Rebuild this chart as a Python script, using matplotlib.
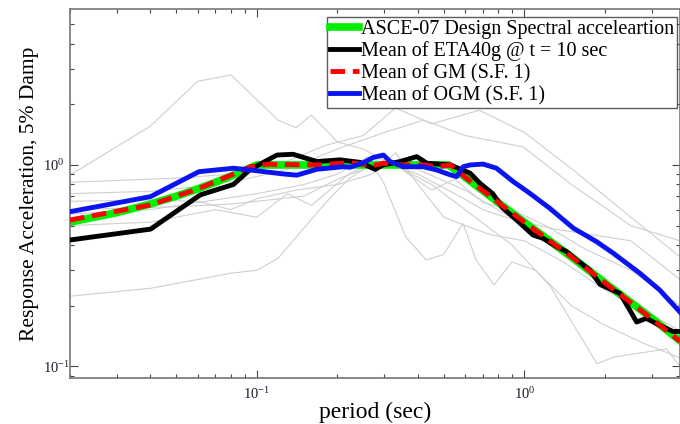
import matplotlib
matplotlib.use("Agg")
import matplotlib.pyplot as plt

plt.rcParams['font.family'] = ['Liberation Serif', 'DejaVu Serif']
plt.rcParams['mathtext.fontset'] = 'stix'

# design spectrum (ASCE-07)
asce_T = [0.02, 0.03, 0.04, 0.05, 0.06, 0.07, 0.08, 0.09, 0.1, 0.52, 0.6, 0.8, 1.0, 1.5, 2.0, 3.0, 3.82]
asce_sa = [0.52, 0.58, 0.64, 0.70, 0.76, 0.82, 0.88, 0.94, 1.0, 1.0, 0.87, 0.65, 0.52, 0.35, 0.26, 0.173, 0.134]

# mean of ETA40g
eta_T = [0.02, 0.04, 0.0614, 0.0817, 0.0944, 0.1188, 0.1366, 0.1675, 0.2046, 0.2431, 0.2767,
         0.2963, 0.3432, 0.396, 0.4321, 0.5296, 0.627, 0.683, 0.762, 0.832, 0.935, 1.077,
         1.174, 1.32, 1.44, 1.57, 1.76, 1.92, 2.28, 2.48, 2.63, 2.86, 3.2, 3.59, 3.82]
eta_sa = [0.424, 0.48, 0.71, 0.80, 0.95, 1.12, 1.13, 1.04, 1.06, 1.03, 0.95,
          1.0, 1.04, 1.10, 1.02, 1.0, 0.91, 0.81, 0.72, 0.61, 0.533, 0.449,
          0.432, 0.393, 0.371, 0.337, 0.30, 0.255, 0.23, 0.19, 0.166, 0.173, 0.16, 0.149, 0.149]

# mean of GM
gm_T = [0.02, 0.04, 0.06, 0.08, 0.0944, 0.11, 0.1675, 0.2232, 0.27, 0.2963, 0.3531, 0.4192,
        0.4704, 0.53, 0.6, 0.8, 1.0, 1.5, 2.0, 3.0, 3.82]
gm_sa = [0.533, 0.633, 0.76, 0.89, 0.98, 1.008, 1.0, 1.027, 0.99, 1.02, 1.0, 1.0,
         0.98, 1.0, 0.87, 0.65, 0.52, 0.35, 0.26, 0.172, 0.133]

# mean of OGM
ogm_T = [0.02, 0.04, 0.0607, 0.0817, 0.0944, 0.1257, 0.1411, 0.1675, 0.2107, 0.2232, 0.2502,
         0.2727, 0.2973, 0.3149, 0.3531, 0.4192, 0.4704, 0.5296, 0.5583, 0.5909, 0.627, 0.7014,
         0.787, 0.9097, 1.049, 1.245, 1.526, 1.862, 2.148, 2.703, 3.2, 3.82]
ogm_sa = [0.586, 0.696, 0.926, 0.963, 0.944, 0.902, 0.89, 0.952, 0.98, 0.974, 1.027,
          1.09, 1.12, 1.04, 0.98, 0.98, 0.944, 0.892, 0.875, 0.98, 1.0, 1.01,
          0.963, 0.826, 0.723, 0.609, 0.485, 0.416, 0.365, 0.29, 0.24, 0.186]

# individual ground motions (thin grey)
gm_records = [
    ([0.02, 0.04, 0.06, 0.08, 0.12, 0.14, 0.16, 0.2, 0.25, 0.3, 0.4, 0.6, 1.0, 1.5, 2.5, 3.82],
     [0.89, 1.56, 2.6, 2.8, 1.67, 1.53, 1.77, 1.3, 1.2, 1.05, 0.95, 0.75, 0.5, 0.33, 0.2, 0.14]),
    ([0.02, 0.04, 0.08, 0.1, 0.12, 0.18, 0.22, 0.28, 0.35, 0.45, 0.6, 0.9, 1.25, 1.87, 2.15, 3.4, 3.82],
     [0.223, 0.244, 0.29, 0.30, 0.344, 0.645, 0.85, 1.05, 0.95, 0.8, 0.6, 0.4, 0.25, 0.103, 0.111, 0.122, 0.1]),
    ([0.02, 0.05, 0.08, 0.12, 0.18, 0.25, 0.33, 0.45, 0.68, 1.0, 1.53, 2.5, 3.82],
     [0.82, 0.86, 0.9, 1.0, 1.25, 1.4, 1.92, 1.6, 1.87, 1.45, 0.94, 0.55, 0.35]),
    ([0.02, 0.04, 0.06, 0.09, 0.13, 0.2, 0.3, 0.42, 0.6, 0.99, 1.5, 2.5, 3.82],
     [0.72, 0.74, 0.78, 0.85, 0.95, 1.2, 1.45, 1.67, 1.4, 1.23, 0.8, 0.5, 0.42]),
    ([0.02, 0.04, 0.06, 0.1, 0.15, 0.2, 0.26, 0.3, 0.36, 0.43, 0.5, 0.59, 0.66, 0.77, 0.9, 1.1, 1.5, 2.0, 2.8, 3.82],
     [0.57, 0.6, 0.65, 0.72, 0.8, 0.9, 1.1, 0.8, 0.44, 0.337, 0.36, 0.513, 0.337, 0.254, 0.33, 0.3, 0.2, 0.16, 0.13, 0.11]),
    ([0.02, 0.04, 0.06, 0.08, 0.1, 0.14, 0.2, 0.27, 0.33, 0.4, 0.5, 0.6, 0.75, 1.0, 1.4, 2.0, 3.0, 3.82],
     [0.66, 0.67, 0.66, 0.6, 0.68, 0.75, 0.8, 0.9, 1.15, 0.8, 0.55, 0.5, 0.45, 0.42, 0.33, 0.24, 0.18, 0.15]),
    ([0.02, 0.04, 0.07, 0.1, 0.13, 0.16, 0.22, 0.3, 0.37, 0.45, 0.55, 0.7, 0.9, 1.2, 1.7, 2.5, 3.82],
     [0.5, 0.52, 0.6, 0.55, 0.72, 0.63, 0.9, 1.1, 0.9, 0.75, 0.85, 0.65, 0.6, 0.5, 0.38, 0.3, 0.2]),
    ([0.02, 0.05, 0.08, 0.1, 0.15, 0.2, 0.25, 0.32, 0.4, 0.55, 0.7, 0.85, 1.0, 1.3, 1.8, 2.5, 3.82],
     [0.6, 0.62, 0.64, 0.66, 0.7, 0.85, 0.95, 1.0, 0.9, 0.72, 0.6, 0.55, 0.52, 0.48, 0.45, 0.42, 0.27]),
]

fig = plt.figure(figsize=(6.8, 4.24), dpi=100)
ax = fig.add_axes([0.1029, 0.1092, 0.8971, 0.8689])

for t, sa in gm_records:
    ax.plot(t, sa, color='#cfcfcf', lw=0.8, zorder=1)

ax.plot(asce_T, asce_sa, color='#00ee00', lw=5.5, label='ASCE-07 Design Spectral acceleartion', zorder=2)
ax.plot(eta_T, eta_sa, color='black', lw=3.5, label='Mean of ETA40g @ t = 10 sec', zorder=3)
ax.plot(gm_T, gm_sa, color='red', lw=3.5, ls=(0, (3, 1.6)), label='Mean of GM (S.F. 1)', zorder=4)
ax.plot(ogm_T, ogm_sa, color='#0a14f0', lw=3.5, label='Mean of OGM (S.F. 1)', zorder=5)

ax.set_xscale('log')
ax.set_yscale('log')
ax.set_xlim(0.02, 3.82)
ax.set_ylim(0.0878, 5.93)

ax.tick_params(which='both', direction='in', top=True, right=True, colors='#444444',
               labelcolor='#1a1a2a', labelsize=10.5)
ax.tick_params(which='major', length=6, width=0.8)
ax.tick_params(which='minor', length=3, width=0.8)
ax.tick_params(axis='x', pad=6)
ax.tick_params(axis='y', pad=19.5)
for lab in ax.get_yticklabels():
    lab.set_horizontalalignment('left')
for s in ax.spines.values():
    s.set_color('#777777')
    s.set_linewidth(1.2)

ax.set_xlabel('period (sec)', fontsize=17, labelpad=0)
ax.set_ylabel('Response Acceleration, 5% Damp', fontsize=15.5, labelpad=3)

leg = ax.legend(loc='upper right', bbox_to_anchor=(677 / 680, 1 - 17 / 424),
                bbox_transform=fig.transFigure, borderaxespad=0,
                fontsize=14.5, frameon=True, fancybox=False,
                handlelength=1.45, handletextpad=0.1, borderpad=0.15, labelspacing=0.12,
                edgecolor='#333333')
leg.get_frame().set_linewidth(1.0)

fig.savefig('out.png', dpi=100)
